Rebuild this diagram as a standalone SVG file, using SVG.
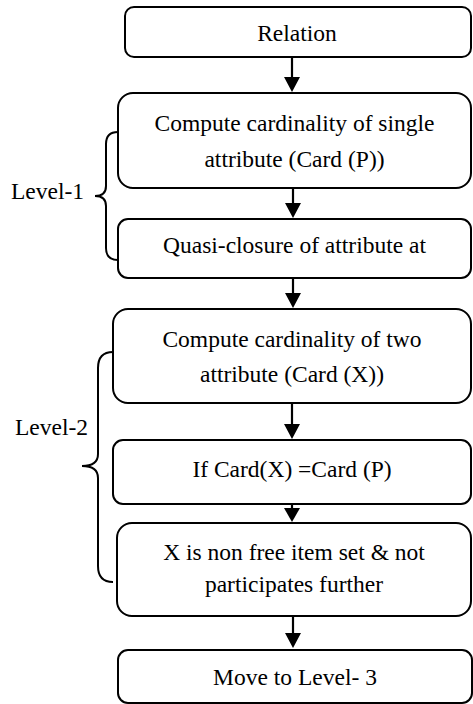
<svg xmlns="http://www.w3.org/2000/svg" width="473" height="704" viewBox="0 0 473 704">
  <style>
    .box { fill: #ffffff; stroke: #000000; stroke-width: 2; }
    text { font-family: 'Liberation Serif', 'DejaVu Serif', 'Times New Roman', serif; font-size: 23.5px; fill: #000000; }
    .lbl { text-anchor: middle; }
    .conn { stroke: #000000; stroke-width: 2.2; fill: none; }
    .head { fill: #000000; stroke: none; }
    .brace { stroke: #000000; stroke-width: 2; fill: none; }
  </style>
  <rect width="473" height="704" fill="#ffffff"/>

  <g id="connectors">
    <line class="conn" x1="292" y1="57" x2="292" y2="80"/>
    <line class="conn" x1="293" y1="188" x2="293" y2="206"/>
    <line class="conn" x1="293" y1="278" x2="293" y2="296"/>
    <line class="conn" x1="292" y1="403" x2="292" y2="427"/>
    <line class="conn" x1="292" y1="504" x2="292" y2="511"/>
    <line class="conn" x1="293" y1="616" x2="293" y2="636"/>
    <path class="head" d="M284,77 L300,77 L292,92 Z"/>
    <path class="head" d="M285,203 L301,203 L293,218 Z"/>
    <path class="head" d="M285,293 L301,293 L293,308 Z"/>
    <path class="head" d="M284,424 L300,424 L292,439 Z"/>
    <path class="head" d="M284,508 L300,508 L292,522 Z"/>
    <path class="head" d="M285,633 L301,633 L293,648 Z"/>
  </g>

  <g id="relation">
    <rect class="box" x="125" y="7" width="346" height="50" rx="9"/>
    <text class="lbl" x="297" y="41" font-family="Liberation Serif, serif">Relation</text>
  </g>

  <g id="card-single">
    <rect class="box" x="118" y="93" width="353" height="95" rx="15"/>
    <text class="lbl" x="294.5" y="131">Compute cardinality of single</text>
    <text class="lbl" x="294.5" y="167">attribute (Card (P))</text>
  </g>

  <g id="quasi-closure">
    <rect class="box" x="118" y="219" width="353" height="59" rx="10"/>
    <text class="lbl" x="294.5" y="253">Quasi-closure of attribute at</text>
  </g>

  <g id="card-two">
    <rect class="box" x="113" y="309" width="358" height="94" rx="15"/>
    <text class="lbl" x="292" y="347">Compute cardinality of two</text>
    <text class="lbl" x="292" y="382">attribute (Card (X))</text>
  </g>

  <g id="card-compare">
    <rect class="box" x="113" y="440" width="358" height="64" rx="10"/>
    <text class="lbl" x="292" y="477">If Card(X) =Card (P)</text>
  </g>

  <g id="non-free">
    <rect class="box" x="117" y="523" width="354" height="93" rx="15"/>
    <text class="lbl" x="294" y="560">X is non free item set &amp; not</text>
    <text class="lbl" x="294" y="592">participates further</text>
  </g>

  <g id="level-3">
    <rect class="box" x="118" y="650" width="354" height="53" rx="10"/>
    <text class="lbl" x="295" y="685">Move to Level- 3</text>
  </g>

  <g id="level-1">
    <path class="brace" d="M118,132 Q106,132 106,144 L106,186 Q106,196 95,196 Q106,196 106,206 L106,248 Q106,260 118,260"/>
    <text x="11" y="199">Level-1</text>
  </g>

  <g id="level-2">
    <path class="brace" d="M113,352 Q98,352 98,368 L98,454 Q98,466 82,466 Q98,466 98,478 L98,566 Q98,582 113,582"/>
    <text x="15" y="435">Level-2</text>
  </g>
</svg>
